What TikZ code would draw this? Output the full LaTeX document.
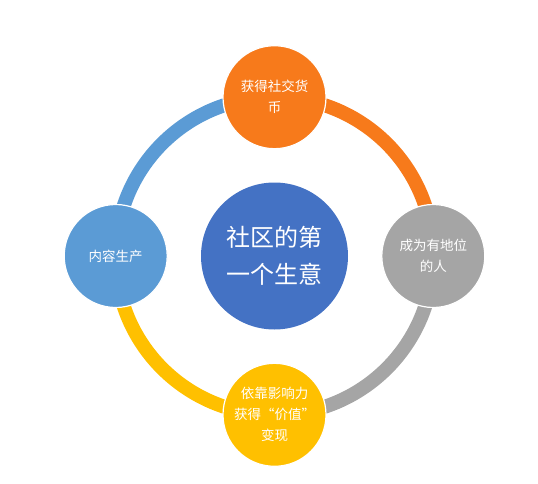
\documentclass[tikz,border=0pt]{standalone}
\usepackage{fontspec}
\setmainfont{Noto Sans CJK SC}
\usetikzlibrary{positioning,backgrounds}

\definecolor{coreblue}{HTML}{4472C4}
\definecolor{stageorange}{HTML}{F77A1B}
\definecolor{stagegray}{HTML}{A5A5A5}
\definecolor{stageyellow}{HTML}{FFC000}
\definecolor{stageblue}{HTML}{5B9BD5}

\begin{document}
\begin{tikzpicture}[
  x=1pt,y=1pt,
  core/.style={circle,fill=coreblue,text=white,minimum size=147pt,inner sep=0pt,
               align=center,font=\fontsize{24}{37}\selectfont},
  stage/.style={circle,draw=white,line width=1.2pt,text=white,minimum size=103pt,
                inner sep=0pt,align=center,font=\fontsize{13.5}{21}\selectfont},
  ring/.style={line width=14pt},
]

%% ---- Frame ------------------------------------------------------------------
\useasboundingbox (0,0) rectangle (538,483);

%% ---- Centre -----------------------------------------------------------------
\node[core] (business) at (274.5,227) {社区的第\\一个生意};

%% ---- Four stages around the centre ------------------------------------------
\node[stage,fill=stageorange,above=33pt of business] (currency) {获得社交货\\币};
\node[stage,fill=stagegray,right=33pt of business]   (status)   {成为有地位\\的人};
\node[stage,fill=stageyellow,below=33pt of business] (monetize) {依靠影响力\\获得“价值”\\变现};
\node[stage,fill=stageblue,left=33pt of business]    (content)  {内容生产};

%% ---- Ring (quarter arcs, behind the circles) --------------------------------
\begin{scope}[on background layer]
  \draw[ring,stageorange] (currency.center) to[out=0,in=90]    (status.center);
  \draw[ring,stagegray]   (status.center)   to[out=-90,in=0]   (monetize.center);
  \draw[ring,stageyellow] (monetize.center) to[out=180,in=-90] (content.center);
  \draw[ring,stageblue]   (content.center)  to[out=90,in=180]  (currency.center);
\end{scope}

\end{tikzpicture}
\end{document}
